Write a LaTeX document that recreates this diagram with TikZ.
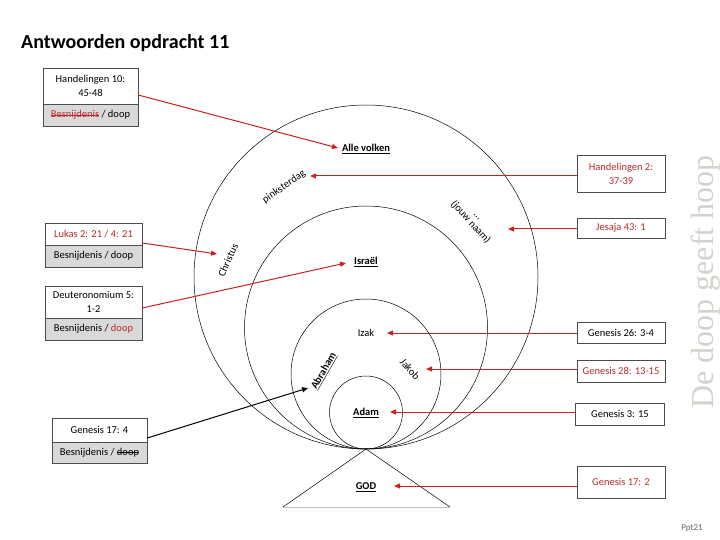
\documentclass[tikz,border=0pt]{standalone}
\usepackage{fontspec}
\setmainfont{Carlito}
\newfontfamily\serifA{Liberation Serif}
\usetikzlibrary{arrows.meta}
\definecolor{ared}{RGB}{204,32,32}
\definecolor{tred}{RGB}{192,40,40}
\definecolor{boxgray}{RGB}{217,217,217}
\definecolor{wmgray}{RGB}{212,210,204}
\newlength\mystrkw
\newcommand\mystrk[1]{\settowidth{\mystrkw}{#1}\rlap{#1}\rule[0.24em]{\mystrkw}{0.55pt}}
\begin{document}
\begin{tikzpicture}[x=1pt,y=-1pt,
  every node/.style={font=\fontsize{10.5}{12}\selectfont, inner sep=1pt},
  boxbase/.style={draw=black!70, line width=0.6pt, align=center, inner sep=0pt, font=\fontsize{10.5}{14}\selectfont},
  topbox/.style={boxbase, fill=white},
  botbox/.style={boxbase, fill=boxgray},
  rbox/.style={boxbase, fill=white, minimum width=88pt},
  ring/.style={draw=black, line width=0.5pt},
  rarrow/.style={draw=ared, line width=1pt, -{Triangle[length=6pt,width=5pt]}},
  barrow/.style={draw=black, line width=1pt, -{Triangle[length=6pt,width=5pt]}},
  lab/.style={font=\fontsize{10.5}{12}\selectfont\bfseries},
]
\useasboundingbox (0,0) rectangle (720,540);

% title
\node[anchor=base west, inner sep=0pt, font=\fontsize{20}{22}\selectfont\bfseries] (title) at (21,48.5) {Antwoorden opdracht 11};

% watermark
\node[rotate=90, inner sep=0pt, font=\serifA\fontsize{32}{32}\selectfont, text=wmgray] (wm) at (706,282) {De doop geeft hoop};
\node[font=\fontsize{9}{10}\selectfont, text=black!60] (ppt) at (692,528) {Ppt21};

% circles
\coordinate (T) at (366,449);
\draw[ring] (366,277) circle[radius=172];
\draw[ring] (366,327.5) circle[radius=121.5];
\draw[ring] (366,374) circle[radius=75];
\draw[ring] (366,412.5) circle[radius=36.5];

% triangle
\coordinate (BL) at (283,507);
\coordinate (BR) at (450,507);
\draw[line width=0.5pt] (BL) -- (T) -- (BR);
\draw[line width=0.5pt, black!25] (BL) -- (BR);

% labels in circles
\node[lab] (alle) at (366,149) {\underline{Alle volken}};
\node[rotate=35] (pink) at (284,187) {pinksterdag};
\node[rotate=-48, align=center, font=\fontsize{10.5}{10}\selectfont] (jouw) at (472,221) {...\\(jouw naam)};
\node[rotate=65] (chr) at (228,260) {Christus};
\node[lab] (isr) at (366,262) {\underline{Israël}};
\node (izak) at (366,333) {Izak};
\node[lab, rotate=60] (abr) at (324,371) {\underline{Abraham}};
\node[rotate=-48] (jak) at (410,369) {Jakob};
\node[lab] (adam) at (366,413) {\underline{Adam}};
\node[lab] (god) at (366,487) {\underline{GOD}};

% arrow tips
\coordinate (tAlle) at (338,148);
\coordinate (tPink) at (310,176);
\coordinate (tJouw) at (508,229);
\coordinate (tChr) at (217,254);
\coordinate (tIsr) at (346,263);
\coordinate (tIzak) at (387,333);
\coordinate (tAbr) at (308,388);
\coordinate (tJak) at (426,369);
\coordinate (tAdam) at (390,412);
\coordinate (tGod) at (394,486);

% left boxes
\node[topbox, minimum width=95pt, minimum height=36pt] (h10a) at (90.5,86) {Handelingen 10:\\45-48};
\node[botbox, minimum width=95pt, minimum height=22pt] (h10b) at (90.5,115) {\textcolor{tred}{\mystrk{Besnijdenis}} / doop};

\node[topbox, minimum width=97pt, minimum height=22pt] (luka) at (93.5,234) {\textcolor{tred}{Lukas 2: 21 / 4: 21}};
\node[botbox, minimum width=97pt, minimum height=22pt] (lukb) at (93.5,256) {Besnijdenis / doop};

\node[topbox, minimum width=97pt, minimum height=32pt] (deua) at (93.5,302) {Deuteronomium 5:\\1-2};
\node[botbox, minimum width=97pt, minimum height=22pt] (deub) at (93.5,329) {Besnijdenis / \textcolor{tred}{doop}};

\node[topbox, minimum width=95pt, minimum height=24pt] (g4a) at (99.5,430) {Genesis 17: 4};
\node[botbox, minimum width=95pt, minimum height=21pt] (g4b) at (99.5,452.5) {Besnijdenis / \mystrk{doop}};

% right boxes
\node[rbox, minimum height=37pt] (h2) at (621,173.5) {\textcolor{tred}{Handelingen 2:}\\\textcolor{tred}{37-39}};
\node[rbox, minimum height=20pt] (jes) at (621,228) {\textcolor{tred}{Jesaja 43: 1}};
\node[rbox, minimum height=21pt] (g26) at (621,332.5) {Genesis 26: 3-4};
\node[rbox, minimum height=22pt] (g28) at (621,371) {\textcolor{tred}{Genesis 28: 13-15}};
\node[rbox, minimum height=22pt, minimum width=89pt] (g3) at (620,414) {Genesis 3: 15};
\node[rbox, minimum height=32pt] (g172) at (621,482) {\textcolor{tred}{Genesis 17: 2}};

% arrows from left
\draw[rarrow] ([yshift=-9pt]h10a.east) -- (tAlle);
\draw[rarrow] ([yshift=-9pt]luka.east) -- (tChr);
\draw[rarrow] ([yshift=-6pt]deua.east) -- (tIsr);
\draw[barrow] ([yshift=-8pt]g4a.east) -- (tAbr);

% arrows from right
\draw[rarrow] (h2.west |- tPink) -- (tPink);
\draw[rarrow] (jes.west |- tJouw) -- (tJouw);
\draw[rarrow] (g26.west |- tIzak) -- (tIzak);
\draw[rarrow] (g28.west |- tJak) -- (tJak);
\draw[rarrow] (g3.west |- tAdam) -- (tAdam);
\draw[rarrow] (g172.west |- tGod) -- (tGod);
\end{tikzpicture}
\end{document}
